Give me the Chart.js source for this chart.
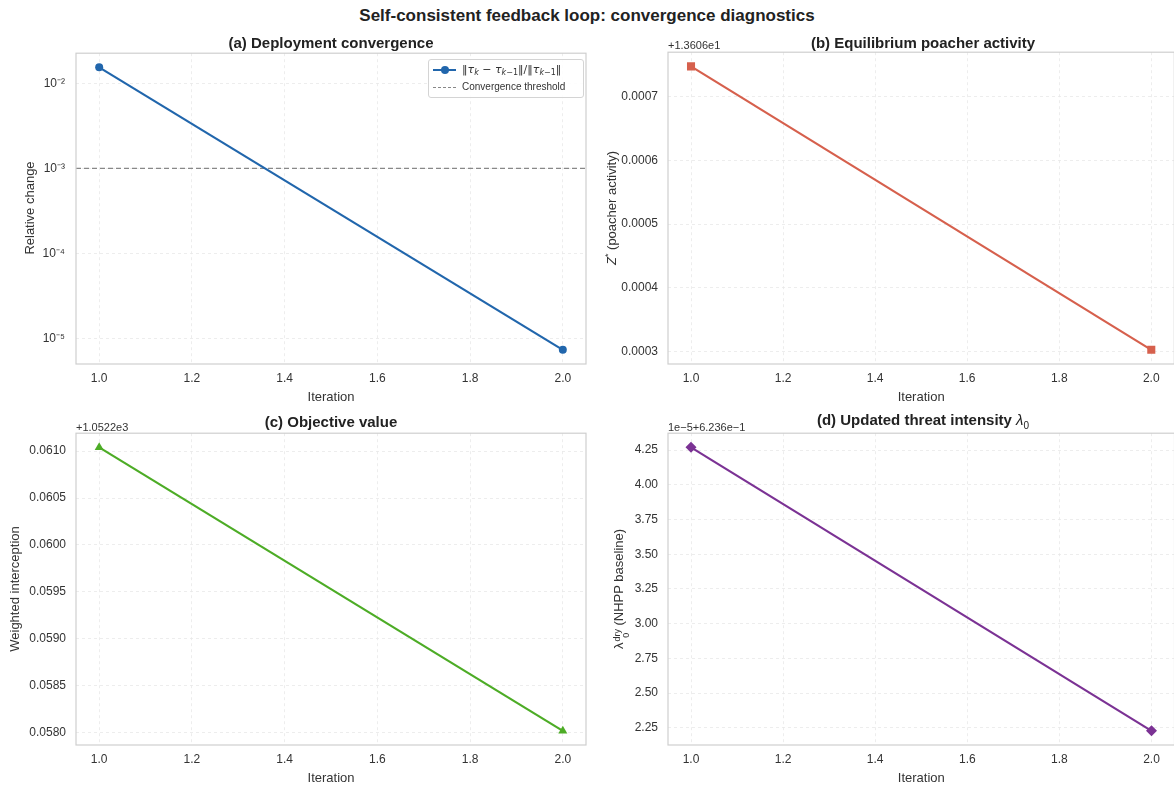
<!DOCTYPE html>
<html>
<head>
<meta charset="utf-8">
<script src="https://cdn.jsdelivr.net/npm/chart.js@4.4.1/dist/chart.umd.min.js"></script>
<style>
body{margin:0;width:1174px;height:787px;overflow:hidden;background:#fff;position:relative;font-family:"Liberation Sans",Arial,sans-serif;color:#222}
canvas{position:absolute}
.t{position:absolute;transform:translate(-50%,-50%);white-space:nowrap}
.main{font-size:17px;font-weight:bold}
.sub{font-size:15px;font-weight:bold}
.off{position:absolute;font-size:11px;color:#333;transform:translateY(-50%);white-space:nowrap}
.yl{position:absolute;width:300px;height:16px;line-height:16px;text-align:center;font-size:13px;color:#333;transform:rotate(-90deg);white-space:nowrap}
.leg{position:absolute;left:428px;top:59px;width:154px;height:37px;border:1px solid #d4d4d4;border-radius:3px;background:rgba(255,255,255,.85);font-size:10px;color:#333}
.leg .row{position:absolute;left:0;height:16px;line-height:16px;white-space:nowrap}
.leg .m{font-family:"DejaVu Sans",sans-serif;font-size:11px}
.leg sub{font-size:8px;vertical-align:-2px}
.ss{display:inline-flex;flex-direction:column;vertical-align:3px;font-size:9px;line-height:9px;margin-left:1px}
</style>
</head>
<body>
<canvas id="ca" width="600" height="373" style="left:0;top:35px"></canvas>
<canvas id="cb" width="590" height="373" style="left:590px;top:35px"></canvas>
<canvas id="cc" width="600" height="373" style="left:0;top:416px"></canvas>
<canvas id="cd" width="590" height="373" style="left:590px;top:416px"></canvas>

<div class="t main" style="left:587px;top:16px">Self-consistent feedback loop: convergence diagnostics</div>
<div class="t sub" style="left:331px;top:42px">(a) Deployment convergence</div>
<div class="t sub" style="left:923px;top:42px">(b) Equilibrium poacher activity</div>
<div class="t sub" style="left:331px;top:421px">(c) Objective value</div>
<div class="t sub" style="left:923px;top:421px">(d) Updated threat intensity <i style="font-weight:normal">λ</i><sub style="font-weight:normal;font-size:10px">0</sub></div>

<div class="off" style="left:668px;top:45px">+1.3606e1</div>
<div class="off" style="left:76px;top:427px">+1.0522e3</div>
<div class="off" style="left:668px;top:427px">1e−5+6.236e−1</div>

<div class="yl" style="left:-120px;top:200px">Relative change</div>
<div class="yl" style="left:-542px;top:200px;left:458px"><i>Z</i><sup style="font-size:9px">*</sup> (poacher activity)</div>
<div class="yl" style="left:-135px;top:581px">Weighted interception</div>
<div class="yl" style="left:469px;top:581px">λ<span class="ss"><span>dry</span><span>0</span></span> (NHPP baseline)</div>

<div class="leg">
  <div style="position:absolute;left:4px;top:9px;width:23px;height:2px;background:#2166ac"></div>
  <div style="position:absolute;left:12px;top:6px;width:8px;height:8px;border-radius:50%;background:#2166ac"></div>
  <div class="row m" style="left:33px;top:2px">‖<i>τ</i><sub><i>k</i></sub> − <i>τ</i><sub><i>k</i>−1</sub>‖/‖<i>τ</i><sub><i>k</i>−1</sub>‖</div>
  <div style="position:absolute;left:4px;top:27px;width:23px;height:0;border-top:1.3px dashed #888"></div>
  <div class="row" style="left:33px;top:19px">Convergence threshold</div>
</div>

<script>
// values
const iterations = [1, 2];
const relChange = [1.55e-2, 7.3e-6];
const threshold = 1e-3;
const poacherDelta = [0.000747, 0.000303];   // + 13.606
const objectiveDelta = [0.06104, 0.05802];   // + 1052.2
const lambdaDelta = [4.27, 2.228];           // x1e-5 + 0.6236

const xTicks = [1.0, 1.2, 1.4, 1.6, 1.8, 2.0];
const relTicks = [1e-5, 1e-4, 1e-3, 1e-2];
const poacherTicks = [0.0003, 0.0004, 0.0005, 0.0006, 0.0007];
const objectiveTicks = [0.0580, 0.0585, 0.0590, 0.0595, 0.0600, 0.0605, 0.0610];
const lambdaTicks = [2.25, 2.50, 2.75, 3.00, 3.25, 3.50, 3.75, 4.00, 4.25];

const FONT = '"Liberation Sans", Arial, sans-serif';
Chart.defaults.font.family = FONT;

const pad = (lo, hi) => [lo - (hi - lo) * 0.05, hi + (hi - lo) * 0.05];
const sup = { '-': '⁻', '0': '⁰', '1': '¹', '2': '²', '3': '³', '4': '⁴', '5': '⁵', '6': '⁶', '7': '⁷', '8': '⁸', '9': '⁹' };
const logLabel = v => '10' + String(Math.round(Math.log10(v))).split('').map(c => sup[c]).join('');

const frame = {
  id: 'frame',
  beforeDatasetsDraw(chart) {
    const a = chart.chartArea, ctx = chart.ctx;
    const th = chart.options.plugins.frame.threshold;
    ctx.save();
    if (th != null) {
      const y = chart.scales.y.getPixelForValue(th);
      ctx.strokeStyle = '#888';
      ctx.lineWidth = 1.3;
      ctx.setLineDash([5, 3]);
      ctx.beginPath(); ctx.moveTo(a.left, y); ctx.lineTo(a.right, y); ctx.stroke();
    }
    ctx.restore();
  },
  afterDraw(chart) {
    const a = chart.chartArea, ctx = chart.ctx;
    ctx.save();
    ctx.strokeStyle = '#cfcfcf';
    ctx.lineWidth = 1.2;
    ctx.strokeRect(a.left, a.top, a.right - a.left, a.bottom - a.top);
    ctx.restore();
  }
};

function panel(id, p) {
  const [xmin, xmax] = pad(iterations[0], iterations[iterations.length - 1]);
  let yScale;
  const common = {
    grid: { color: '#e9e9e9', lineWidth: 0.8, drawTicks: false },
    border: { display: false, dash: [3, 3] },
    ticks: { padding: 10, color: '#333', font: { size: 12 }, autoSkip: false }
  };
  if (p.log) {
    const l = p.values.map(Math.log10);
    const [lo, hi] = pad(Math.min(...l), Math.max(...l));
    yScale = { ...common, type: 'logarithmic', min: Math.pow(10, lo), max: Math.pow(10, hi),
      ticks: { ...common.ticks, padding: 11, callback: v => logLabel(v) } };
  } else {
    const [lo, hi] = pad(Math.min(...p.values), Math.max(...p.values));
    yScale = { ...common, type: 'linear', min: lo, max: hi,
      ticks: { ...common.ticks, callback: v => v.toFixed(p.digits) } };
  }
  yScale.afterBuildTicks = s => { s.ticks = p.ticks.map(v => ({ value: v })); };
  yScale.afterFit = s => { s.width = p.yWidth; };

  return new Chart(document.getElementById(id), {
    type: 'line',
    data: {
      datasets: [{
        data: iterations.map((x, i) => ({ x, y: p.values[i] })),
        borderColor: p.color, backgroundColor: p.color,
        borderWidth: 2.2, pointStyle: p.marker, pointRadius: p.radius,
        pointBorderWidth: 0, tension: 0
      }]
    },
    options: {
      responsive: false, animation: false,
      layout: { padding: { top: 5, right: p.padRight, bottom: 0, left: 0 } },
      plugins: { legend: { display: false }, tooltip: { enabled: false }, frame: { threshold: p.threshold } },
      scales: {
        x: {
          ...common, type: 'linear', min: xmin, max: xmax,
          ticks: { ...common.ticks, padding: 7, callback: v => v.toFixed(1) },
          afterBuildTicks: s => { s.ticks = xTicks.map(v => ({ value: v })); },
          afterFit: s => { s.height = 44; },
          title: { display: true, text: 'Iteration', color: '#333', font: { size: 13 }, padding: { top: 0, bottom: 3 } }
        },
        y: yScale
      }
    },
    plugins: [frame]
  });
}

panel('ca', { values: relChange, log: true, ticks: relTicks, color: '#2166ac', marker: 'circle', radius: 4, yWidth: 76, padRight: 14, threshold });
panel('cb', { values: poacherDelta, ticks: poacherTicks, digits: 4, color: '#d6604d', marker: 'rect', radius: 5.7, yWidth: 78, padRight: 1 });
panel('cc', { values: objectiveDelta, ticks: objectiveTicks, digits: 4, color: '#4dac26', marker: 'triangle', radius: 5.2, yWidth: 76, padRight: 14 });
panel('cd', { values: lambdaDelta, ticks: lambdaTicks, digits: 2, color: '#7b3294', marker: 'rectRot', radius: 5.5, yWidth: 78, padRight: 1 });
</script>
</body>
</html>
